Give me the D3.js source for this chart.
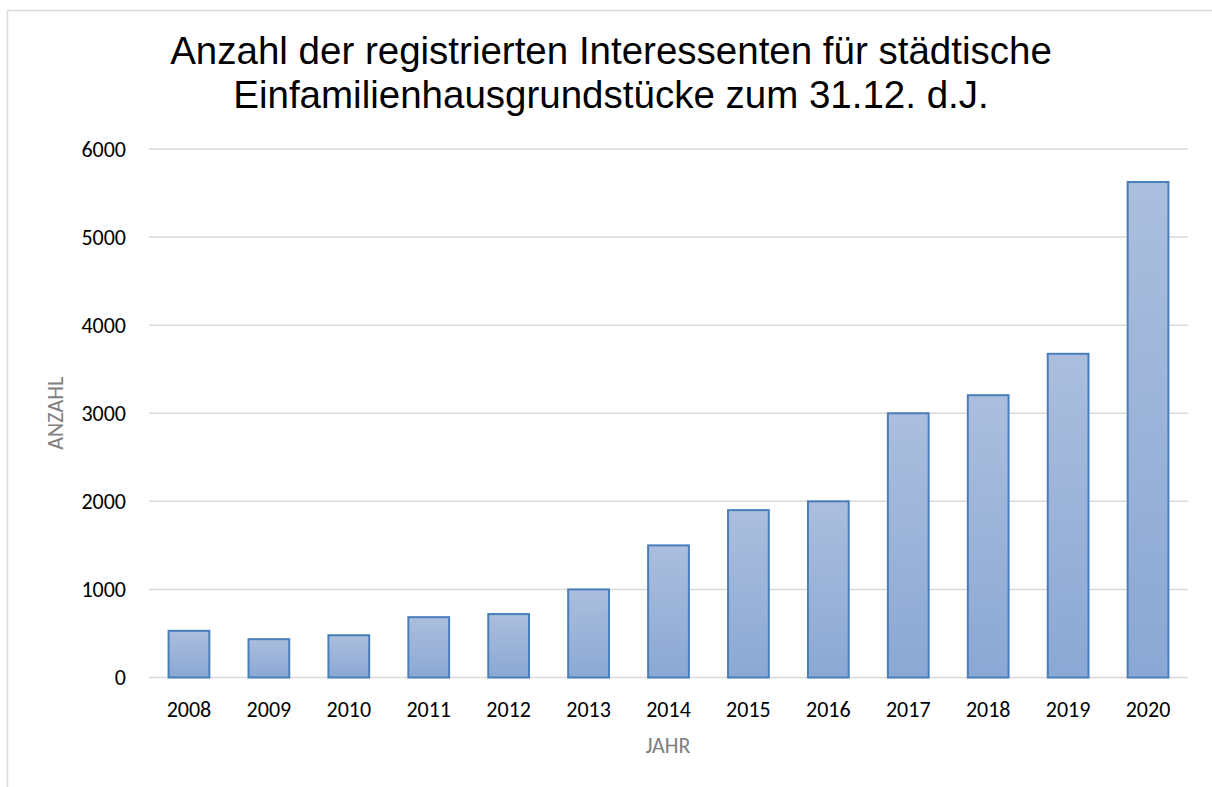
<!DOCTYPE html>
<html>
<head>
<meta charset="utf-8">
<script src="https://cdn.jsdelivr.net/npm/d3@7"></script>
<style>
  body { margin: 0; background: #fff; }
  svg { display: block; }
</style>
</head>
<body>
<div id="chart"></div>
<script>
const years = ["2008", "2009", "2010", "2011", "2012", "2013", "2014", "2015", "2016", "2017", "2018", "2019", "2020"];
const counts = [530, 435, 480, 685, 720, 1000, 1500, 1900, 2000, 3000, 3205, 3675, 5625];
const yTicks = [0, 1000, 2000, 3000, 4000, 5000, 6000];
const titleLines = ["Anzahl der registrierten Interessenten für städtische", "Einfamilienhausgrundstücke zum 31.12. d.J."];

const width = 1212,
  height = 787;
const margin = { top: 149, right: 24, bottom: 110, left: 149 };

const svg = d3.select("#chart")
  .append("svg")
  .attr("width", width)
  .attr("height", height);

// chart frame
svg.append("rect")
  .attr("x", 7.5)
  .attr("y", 10.5)
  .attr("width", width + 20)
  .attr("height", height + 20)
  .attr("fill", "none")
  .attr("stroke", "#d9d9d9")
  .attr("stroke-width", 1.5);

const grad = svg.append("defs")
  .append("linearGradient")
  .attr("id", "barGrad")
  .attr("x1", 0).attr("y1", 0)
  .attr("x2", 0).attr("y2", 1);
grad.append("stop").attr("offset", "0%").attr("stop-color", "#abbedd");
grad.append("stop").attr("offset", "100%").attr("stop-color", "#8aa8d4");

const x = d3.scaleBand()
  .domain(years)
  .range([margin.left, width - margin.right])
  .paddingInner(0.49)
  .paddingOuter(0.245);

const y = d3.scaleLinear()
  .domain([0, 6000])
  .range([677.5, margin.top]);

// gridlines
svg.append("g")
  .selectAll("line")
  .data(yTicks)
  .join("line")
  .attr("x1", margin.left)
  .attr("x2", width - margin.right)
  .attr("y1", d => y(d))
  .attr("y2", d => y(d))
  .attr("stroke", "#d9d9d9")
  .attr("stroke-width", 1.5);

// y tick labels
svg.append("g")
  .selectAll("text")
  .data(yTicks)
  .join("text")
  .attr("x", 126)
  .attr("y", d => y(d))
  .attr("dy", "0.35em")
  .attr("text-anchor", "end")
  .attr("font-family", "Carlito, Lato, sans-serif")
  .attr("font-size", 22)
  .attr("fill", "#000")
  .text(d => d);

// bars
svg.append("g")
  .selectAll("rect")
  .data(years)
  .join("rect")
  .attr("x", d => x(d))
  .attr("y", (d, i) => y(counts[i]))
  .attr("width", x.bandwidth())
  .attr("height", (d, i) => y(0) - y(counts[i]))
  .attr("fill", "url(#barGrad)")
  .attr("stroke", "#4a7ebb")
  .attr("stroke-width", 2);

// x tick labels
svg.append("g")
  .selectAll("text")
  .data(years)
  .join("text")
  .attr("x", d => x(d) + x.bandwidth() / 2)
  .attr("y", 717)
  .attr("text-anchor", "middle")
  .attr("font-family", "Carlito, Lato, sans-serif")
  .attr("font-size", 22)
  .attr("fill", "#000")
  .text(d => d);

// axis titles
svg.append("text")
  .attr("x", 668)
  .attr("y", 753)
  .attr("text-anchor", "middle")
  .attr("font-family", "Carlito, Lato, sans-serif")
  .attr("font-size", 22)
  .attr("fill", "#808080")
  .text("JAHR");

svg.append("text")
  .attr("transform", `translate(63,${(y(0) + y(6000)) / 2}) rotate(-90)`)
  .attr("text-anchor", "middle")
  .attr("font-family", "Carlito, Lato, sans-serif")
  .attr("font-size", 22)
  .attr("fill", "#808080")
  .text("ANZAHL");

// title
svg.append("g")
  .selectAll("text")
  .data(titleLines)
  .join("text")
  .attr("x", 611)
  .attr("y", (d, i) => 64 + i * 44)
  .attr("text-anchor", "middle")
  .attr("font-family", "Liberation Sans, Arial, sans-serif")
  .attr("font-size", 38.5)
  .attr("fill", "#000")
  .text(d => d);
</script>
</body>
</html>
